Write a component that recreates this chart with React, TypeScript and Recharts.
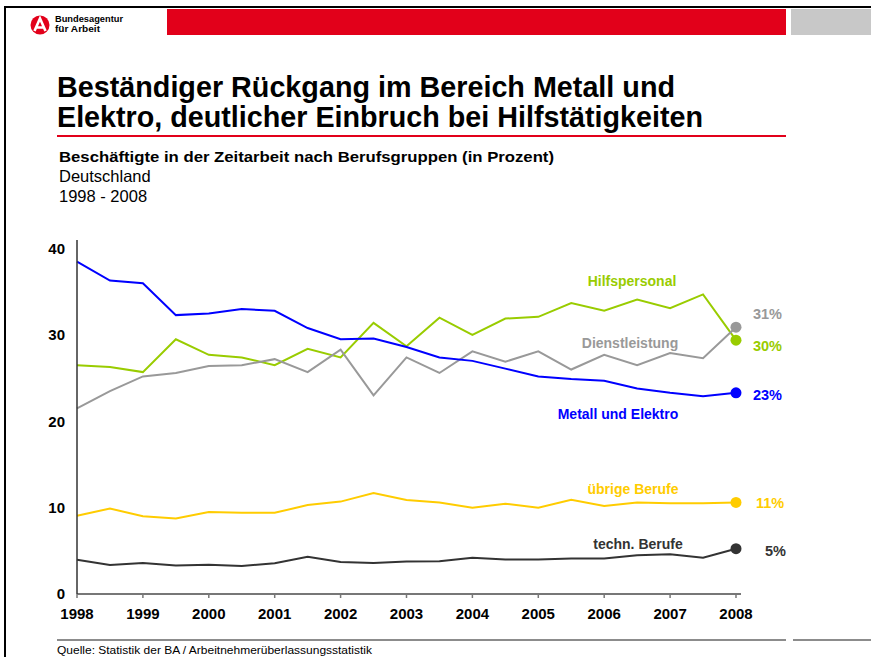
import React from 'react';
import { LineChart, Line, XAxis, YAxis, LabelList } from 'recharts';

// half-year points 1998 - 2008
const periods = [
  1998, 1998.5, 1999, 1999.5, 2000, 2000.5, 2001, 2001.5, 2002, 2002.5, 2003,
  2003.5, 2004, 2004.5, 2005, 2005.5, 2006, 2006.5, 2007, 2007.5, 2008,
];
const yearTicks = [1998, 1999, 2000, 2001, 2002, 2003, 2004, 2005, 2006, 2007, 2008];
const valueTicks = [0, 10, 20, 30, 40];

const metall = [38.5, 36.3, 36.0, 32.3, 32.5, 33.0, 32.8, 30.8, 29.5, 29.6, 28.6, 27.4, 27.0, 26.1, 25.2, 24.9, 24.7, 23.8, 23.3, 22.9, 23.3];
const hilfs = [26.5, 26.3, 25.7, 29.5, 27.7, 27.4, 26.5, 28.4, 27.4, 31.4, 28.7, 32.0, 30.0, 31.9, 32.1, 33.7, 32.8, 34.1, 33.1, 34.7, 29.4];
const dienst = [21.5, 23.5, 25.2, 25.6, 26.4, 26.5, 27.2, 25.7, 28.3, 23.0, 27.4, 25.6, 28.1, 26.9, 28.1, 26.0, 27.7, 26.5, 27.9, 27.3, 30.9];
const uebrige = [9.06, 9.9, 9.0, 8.75, 9.5, 9.4, 9.4, 10.3, 10.7, 11.7, 10.9, 10.6, 10.0, 10.45, 10.0, 10.9, 10.2, 10.6, 10.5, 10.5, 10.6];
const techn = [3.97, 3.36, 3.6, 3.3, 3.4, 3.25, 3.55, 4.3, 3.7, 3.6, 3.75, 3.8, 4.2, 4.0, 4.0, 4.1, 4.1, 4.5, 4.6, 4.2, 5.25];

const seriesNames = ['Hilfspersonal', 'Dienstleistung', 'Metall und Elektro', 'übrige Berufe', 'techn. Berufe'];
const endLabels = ['30%', '31%', '23%', '11%', '5%'];

const FONT = '"Liberation Sans", Arial, Helvetica, sans-serif';

const data = periods.map((p, i) => ({
  period: p,
  hilfs: hilfs[i],
  dienst: dienst[i],
  metall: metall[i],
  uebrige: uebrige[i],
  techn: techn[i],
}));

// key, line colour, label offset (dx, dy) for the end value, name label position
const series = [
  { key: 'hilfs', color: '#99cc00', dx: 17, dy: 11, nameX: 632, nameY: 286 },
  { key: 'dienst', color: '#999999', dx: 17, dy: -8, nameX: 630, nameY: 348 },
  { key: 'metall', color: '#0000ff', dx: 17, dy: 7, nameX: 618, nameY: 419 },
  { key: 'uebrige', color: '#ffcc00', dx: 20, dy: 6, nameX: 633, nameY: 494 },
  { key: 'techn', color: '#333333', dx: 29, dy: 7, nameX: 638, nameY: 549 },
];

const last = periods.length - 1;

const endDot = (color: string) => (props: any) => {
  const { cx, cy, index } = props;
  if (index !== last) return <g key={`e-${index}`} />;
  return <circle key={`d-${index}`} cx={cx} cy={cy} r={5.5} fill={color} stroke="none" />;
};

const endLabel = (text: string, color: string, dx: number, dy: number) => (props: any) => {
  const { x, y, index } = props;
  if (index !== last) return null;
  return (
    <text x={x + dx} y={y + dy} fill={color} fontSize={14.5} fontWeight="bold" fontFamily={FONT}>
      {text}
    </text>
  );
};

export default function App() {
  return (
    <div style={{ position: 'absolute', left: 0, top: 0, width: 871, height: 657, background: '#fff', overflow: 'hidden' }}>
      <div style={{ position: 'absolute', left: 0, top: 0 }}>
        <LineChart width={871} height={657} data={data} margin={{ top: 240, right: 130, bottom: 33, left: 17 }}>
          <XAxis
            type="number"
            dataKey="period"
            domain={[1998, 2008.076]}
            ticks={yearTicks}
            interval={0}
            height={30}
            axisLine={{ stroke: '#777777', strokeWidth: 2 }}
            tickLine={{ stroke: '#777777', strokeWidth: 1.5 }}
            tickSize={4}
            tickMargin={10}
            tick={{ fill: '#000', fontSize: 15, fontWeight: 'bold', fontFamily: FONT }}
          />
          <YAxis
            type="number"
            domain={[0, 41]}
            ticks={valueTicks}
            interval={0}
            width={60}
            axisLine={{ stroke: '#333333', strokeWidth: 1.5 }}
            tickLine={false}
            tickSize={0}
            tickMargin={12}
            tick={{ fill: '#000', fontSize: 15, fontWeight: 'bold', fontFamily: FONT }}
          />
          {series.map((s, i) => (
            <Line
              key={s.key}
              type="linear"
              dataKey={s.key}
              stroke={s.color}
              strokeWidth={2}
              dot={endDot(s.color)}
              activeDot={false}
              isAnimationActive={false}
            >
              <LabelList dataKey={s.key} content={endLabel(endLabels[i], s.color, s.dx, s.dy)} />
            </Line>
          ))}
        </LineChart>
      </div>

      <svg width={871} height={657} style={{ position: 'absolute', left: 0, top: 0, pointerEvents: 'none' }} fontFamily={FONT}>
        {/* frame */}
        <line x1={5} y1={7} x2={871} y2={7} stroke="#000" strokeWidth={2} />
        <line x1={5} y1={6} x2={5} y2={657} stroke="#000" strokeWidth={2} />

        {/* header */}
        <circle cx={40} cy={25} r={9.5} fill="#e2001a" />
        <path d="M34.5 31 L40 18.5 L45.5 31 M36.2 27.5 L44 27.5" stroke="#fff" strokeWidth={2.6} fill="none" />
        <text x={55} y={22} fontSize={9} fontWeight="bold" textLength={68} lengthAdjust="spacingAndGlyphs">Bundesagentur</text>
        <text x={55} y={32} fontSize={9} fontWeight="bold" textLength={45} lengthAdjust="spacingAndGlyphs">für Arbeit</text>
        <rect x={167} y={9} width={619} height={26} fill="#e2001a" />
        <rect x={791} y={9} width={80} height={26} fill="#c8c8c8" />

        {/* titles */}
        <text x={57} y={97} fontSize={29} fontWeight="bold" textLength={618} lengthAdjust="spacingAndGlyphs">
          Beständiger Rückgang im Bereich Metall und
        </text>
        <text x={57} y={127} fontSize={29} fontWeight="bold" textLength={646} lengthAdjust="spacingAndGlyphs">
          Elektro, deutlicher Einbruch bei Hilfstätigkeiten
        </text>
        <line x1={57} y1={136} x2={786} y2={136} stroke="#e2001a" strokeWidth={2} />
        <text x={59} y={162} fontSize={15} fontWeight="bold" textLength={495} lengthAdjust="spacingAndGlyphs">
          Beschäftigte in der Zeitarbeit nach Berufsgruppen (in Prozent)
        </text>
        <text x={59} y={182} fontSize={16.5}>Deutschland</text>
        <text x={59} y={202} fontSize={16.5}>1998 - 2008</text>

        {/* series names */}
        {series.map((s, i) => (
          <text key={s.key} x={s.nameX} y={s.nameY} textAnchor="middle" fontSize={14} fontWeight="bold" fill={s.color}>
            {seriesNames[i]}
          </text>
        ))}

        {/* footer */}
        <line x1={57} y1={640} x2={786} y2={640} stroke="#666" strokeWidth={1.5} />
        <line x1={793} y1={640} x2={871} y2={640} stroke="#666" strokeWidth={1.5} />
        <text x={57} y={654} fontSize={11} textLength={315} lengthAdjust="spacingAndGlyphs">
          Quelle: Statistik der BA / Arbeitnehmerüberlassungsstatistik
        </text>
      </svg>
    </div>
  );
}
